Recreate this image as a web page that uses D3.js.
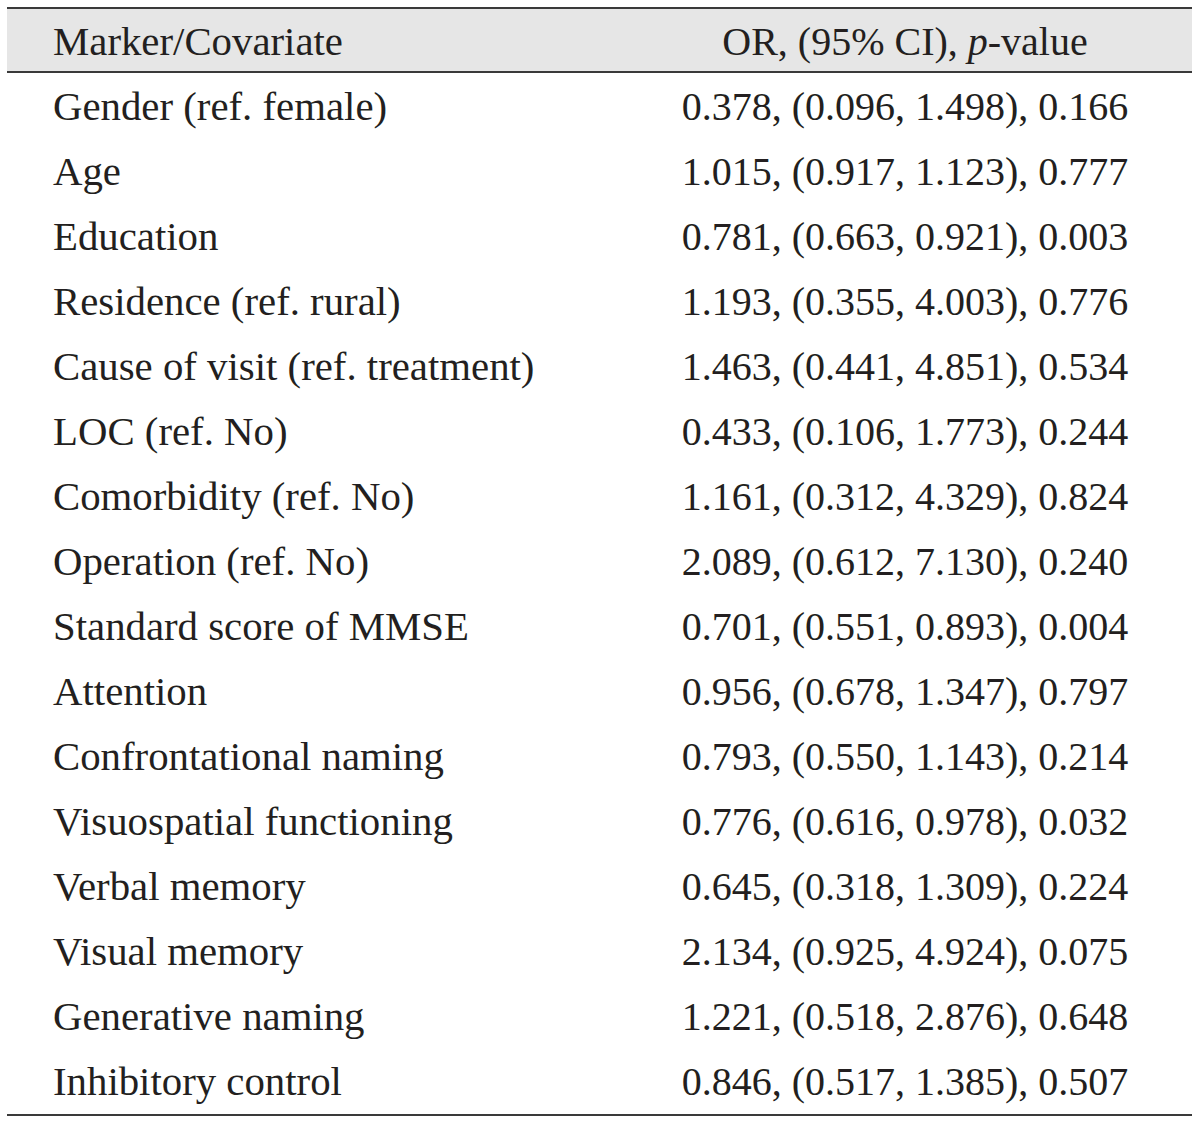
<!DOCTYPE html>
<html><head><meta charset="utf-8">
<script src="https://cdn.jsdelivr.net/npm/d3@7"></script>
<style>html,body{margin:0;padding:0;background:#fff;}</style>
</head><body>
<script>
const markers = ["Gender (ref. female)","Age","Education","Residence (ref. rural)","Cause of visit (ref. treatment)","LOC (ref. No)","Comorbidity (ref. No)","Operation (ref. No)","Standard score of MMSE","Attention","Confrontational naming","Visuospatial functioning","Verbal memory","Visual memory","Generative naming","Inhibitory control"];
const orValues = ["0.378","1.015","0.781","1.193","1.463","0.433","1.161","2.089","0.701","0.956","0.793","0.776","0.645","2.134","1.221","0.846"];
const ciLow = ["0.096","0.917","0.663","0.355","0.441","0.106","0.312","0.612","0.551","0.678","0.550","0.616","0.318","0.925","0.518","0.517"];
const ciHigh = ["1.498","1.123","0.921","4.003","4.851","1.773","4.329","7.130","0.893","1.347","1.143","0.978","1.309","4.924","2.876","1.385"];
const pValues = ["0.166","0.777","0.003","0.776","0.534","0.244","0.824","0.240","0.004","0.797","0.214","0.032","0.224","0.075","0.648","0.507"];
const headers = ["Marker/Covariate","OR, (95% CI), p-value"];

const W = 1200, H = 1124;
const svg = d3.select("body").append("svg").attr("width", W).attr("height", H);
const font = "'Liberation Serif','Times New Roman',serif";
const fs = 40, fsLeft = 40.8;

const y = d3.scaleBand().domain(d3.range(markers.length)).range([75, 1115]);
const tableLeft = 7, tableRight = 1192;
const col1x = 53, col2c = 905;

svg.append("rect").attr("x", tableLeft).attr("y", 8).attr("width", tableRight - tableLeft).attr("height", 64).attr("fill", "#e6e6e6");
[[8,2],[72,1.8],[1115,1.8]].forEach(([yy, w]) => {
  svg.append("line").attr("x1", tableLeft).attr("x2", tableRight).attr("y1", yy).attr("y2", yy)
    .attr("stroke", "#3a3a3a").attr("stroke-width", w);
});

svg.append("text").attr("x", col1x).attr("y", 55).attr("font-family", font).attr("font-size", fsLeft)
  .attr("fill", "#231f20").text(headers[0]);
const h2 = svg.append("text").attr("x", col2c).attr("y", 55).attr("text-anchor", "middle")
  .attr("font-family", font).attr("font-size", fs).attr("fill", "#231f20");
h2.append("tspan").text("OR, (95% CI), ");
h2.append("tspan").attr("font-style", "italic").text("p");
h2.append("tspan").text("-value");

const rows = svg.selectAll("g.row").data(markers).join("g").attr("class", "row")
  .attr("transform", (d, i) => `translate(0,${y(i) + y.bandwidth() / 2 + 12})`);
rows.append("text").attr("x", col1x).attr("font-family", font).attr("font-size", fsLeft)
  .attr("fill", "#231f20").text(d => d);
rows.append("text").attr("x", col2c).attr("text-anchor", "middle").attr("font-family", font)
  .attr("font-size", fs).attr("fill", "#231f20")
  .text((d, i) => `${orValues[i]}, (${ciLow[i]}, ${ciHigh[i]}), ${pValues[i]}`);
</script>
</body></html>
